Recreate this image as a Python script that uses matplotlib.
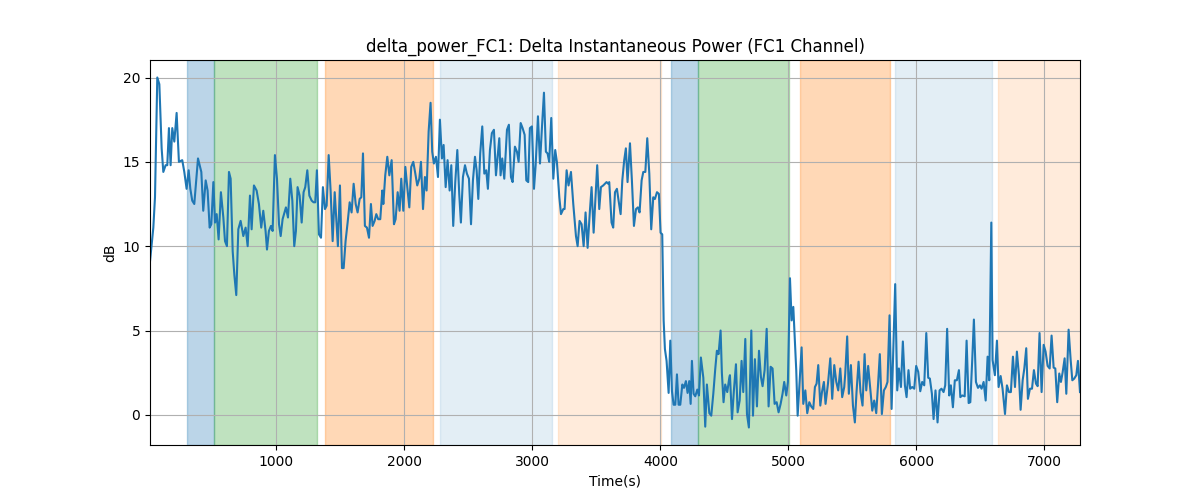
import numpy as np
import matplotlib
matplotlib.use("Agg")
import matplotlib.pyplot as plt

# time (s) / value (dB) pairs, segment by segment
t_a = [12, 38, 51, 69, 85, 103, 116, 134, 147, 160, 173, 186, 202, 220, 238, 264, 280, 298, 314, 327,
       342, 358, 387, 413, 428, 447, 462, 478, 491, 507, 520, 533, 548, 566, 585, 598, 613, 629, 642, 658,
       671, 686, 702, 720, 741, 759, 775, 793, 806, 824, 845, 863, 881, 897, 915]
v_a = [9.1, 11.1, 12.9, 20.0, 19.6, 15.8, 14.4, 14.8, 14.8, 17.0, 14.8, 17.0, 16.2, 17.9, 15.0, 15.1, 14.4, 13.4, 14.5, 13.4,
       12.7, 12.5, 15.2, 14.4, 12.1, 13.9, 13.3, 11.1, 11.3, 13.8, 11.4, 11.9, 10.4, 13.2, 11.7, 10.3, 10.0, 14.4, 14.0, 9.7,
       8.3, 7.1, 11.0, 11.5, 10.6, 11.1, 10.0, 13.0, 11.0, 13.6, 13.3, 12.5, 11.1, 12.1, 10.9]

t_b = [926, 941, 957, 970, 988, 1004, 1020, 1033, 1048, 1074, 1090, 1108, 1124, 1139, 1152, 1165, 1181, 1197, 1212, 1225,
       1241, 1257, 1275, 1290, 1303, 1316, 1332, 1348, 1363, 1379, 1392, 1408, 1423, 1439, 1455, 1467, 1480, 1496, 1512, 1525,
       1540, 1556, 1572, 1587, 1603, 1619, 1634, 1650, 1663, 1676, 1691, 1707, 1723, 1738, 1751, 1767, 1780, 1795, 1811, 1827]
v_b = [9.8, 10.9, 11.2, 10.9, 15.4, 14.0, 11.3, 10.6, 11.6, 12.3, 11.7, 14.0, 12.7, 10.0, 10.9, 13.5, 13.0, 11.4, 13.2, 13.5,
       14.5, 13.0, 12.7, 12.6, 12.6, 14.5, 10.7, 10.5, 13.5, 12.2, 12.4, 15.4, 13.3, 10.3, 13.2, 11.7, 10.0, 13.6, 8.7, 8.7,
       10.3, 11.4, 12.6, 12.0, 13.7, 12.5, 12.0, 12.8, 12.9, 15.5, 11.2, 11.1, 10.5, 12.5, 11.2, 11.5, 11.9, 11.6, 11.6, 13.3]

t_c = [1835, 1850, 1866, 1882, 1900, 1918, 1931, 1947, 1962, 1975, 1991, 2007, 2022, 2038, 2053, 2069, 2085, 2100, 2116, 2129,
       2145, 2160, 2173, 2189, 2204, 2217, 2230, 2246, 2262, 2277, 2293, 2306, 2322, 2337, 2353, 2366, 2381, 2397, 2413, 2428,
       2441, 2457, 2473, 2488, 2504, 2520, 2535, 2551, 2564, 2577, 2592, 2608, 2624, 2639, 2652, 2668, 2683, 2699, 2715, 2730, 2741]
v_c = [12.5, 14.2, 15.3, 14.2, 15.1, 11.3, 11.6, 13.2, 12.1, 14.0, 12.1, 14.7, 13.5, 12.3, 14.7, 15.0, 14.3, 13.6, 14.0, 15.0,
       12.2, 14.1, 13.3, 16.8, 18.5, 15.6, 14.9, 15.3, 14.1, 17.5, 15.2, 16.0, 13.5, 15.1, 13.3, 14.8, 11.2, 13.8, 15.7, 13.1,
       11.4, 14.1, 14.8, 14.3, 14.0, 11.3, 13.9, 15.3, 14.5, 12.8, 15.5, 17.1, 14.3, 14.5, 13.4, 15.7, 16.7, 16.9, 14.2, 15.5, 16.4]

t_d = [2751, 2764, 2780, 2801, 2816, 2832, 2845, 2863, 2879, 2892, 2908, 2923, 2939, 2952, 2967, 2980, 2996, 3012, 3025, 3043,
       3059, 3074, 3090, 3105, 3118, 3131, 3147, 3163, 3178, 3191, 3210, 3223, 3241, 3251, 3267, 3282, 3301, 3319, 3340, 3353,
       3368, 3384, 3400, 3415, 3431, 3449, 3462, 3478, 3493, 3506, 3522, 3535, 3553, 3566, 3579, 3592, 3600, 3618, 3631]
v_d = [14.2, 15.2, 14.0, 16.9, 17.2, 14.1, 13.8, 15.9, 15.6, 15.0, 17.3, 17.0, 16.6, 13.9, 13.8, 17.0, 17.1, 13.4, 14.8, 17.7,
       14.9, 17.0, 19.1, 15.6, 15.5, 15.0, 17.6, 14.0, 15.7, 15.0, 12.9, 11.9, 12.2, 12.2, 14.5, 13.6, 14.4, 12.5, 10.6, 10.0,
       11.5, 11.3, 10.0, 12.0, 9.9, 12.1, 13.5, 10.8, 12.9, 14.8, 12.2, 13.5, 13.6, 13.7, 13.8, 13.7, 13.8, 11.4, 11.1]

t_e = [3645, 3660, 3673, 3689, 3702, 3717, 3730, 3743, 3762, 3777, 3793, 3809, 3824, 3837, 3853, 3866, 3882, 3897, 3913, 3928,
       3944, 3957, 3973, 3988, 4001, 4014, 4025, 4035, 4048, 4064, 4077, 4090, 4103, 4116, 4129, 4142, 4155, 4171, 4184, 4199,
       4212, 4225, 4236, 4246, 4259, 4272, 4288, 4301, 4316, 4335, 4350, 4363, 4382, 4397, 4413, 4428, 4441, 4454, 4470, 4480,
       4493, 4506, 4522, 4538]
v_e = [13.2, 13.4, 12.7, 11.9, 13.9, 15.1, 15.8, 13.8, 16.1, 13.9, 11.2, 12.2, 12.3, 12.0, 13.9, 14.4, 14.4, 16.4, 14.3, 11.0,
       12.9, 12.8, 13.2, 13.1, 10.8, 10.7, 5.6, 3.9, 3.2, 1.3, 4.4, 1.4, 0.6, 0.6, 2.4, 0.6, 0.6, 1.8, 1.6, 2.0,
       1.3, 2.0, 0.65, 3.2, 1.25, 1.1, 1.5, 1.15, 3.4, 2.2, -0.7, 1.8, 0.1, -0.05, 1.25, 2.7, 3.8, 3.6, 5.0, 2.5,
       0.75, 1.8, 1.35, 2.2]

t_f = [4543, 4559, 4574, 4590, 4603, 4619, 4634, 4647, 4663, 4676, 4691, 4710, 4723, 4738, 4754, 4770, 4785, 4798, 4814, 4830,
       4845, 4861, 4876, 4892, 4908, 4923, 4939, 4954, 4967, 4983, 4996, 5012, 5025, 5038, 5051, 5061, 5072, 5087, 5103, 5116,
       5132, 5147, 5163, 5178, 5194, 5207, 5220, 5233, 5249, 5262, 5277, 5290, 5309, 5327, 5342, 5358, 5374, 5389, 5405, 5420, 5436]
v_f = [2.35, -0.25, 1.45, 3.0, 0.15, 0.85, 3.2, 1.35, 4.5, 0.05, -0.75, 5.0, -0.05, 3.3, 0.5, 3.8, 2.25, 1.7, 2.65, 5.1,
       0.5, 2.85, 2.75, 0.65, 0.75, 0.15, 0.65, 1.25, 1.95, 1.15, 1.95, 8.1, 5.6, 6.4, 4.2, 2.65, -0.05, 1.95, 4.0, 0.65,
       1.45, 0.1, 0.75, 0.5, 0.35, 1.65, 1.85, 2.95, 0.55, 1.35, 1.95, 0.65, 1.85, 3.35, 0.95, 2.95, 1.95, 1.45, 2.75, 1.05, 1.65]

t_g = [5444, 5459, 5472, 5488, 5504, 5519, 5532, 5548, 5563, 5579, 5595, 5608, 5623, 5639, 5655, 5670, 5686, 5699, 5714, 5730,
       5746, 5761, 5774, 5790, 5806, 5821, 5834, 5850, 5863, 5879, 5894, 5910, 5923, 5938, 5951, 5967, 5983, 5998, 6014, 6030,
       6045, 6061, 6077, 6092, 6105, 6121, 6134, 6149, 6165, 6181, 6196, 6212, 6225, 6240, 6256, 6269, 6285, 6300, 6316, 6332]
v_g = [2.45, 4.65, 1.25, 2.95, 0.55, -0.45, 1.35, 3.15, 1.35, 0.55, 3.6, 1.45, 2.9, 1.55, 0.25, 0.85, 0.1, 1.65, 3.6, 0.05,
       1.45, 1.65, 1.95, 5.9, 0.35, 4.4, 7.75, 1.45, 2.75, 1.65, 4.35, 1.75, 1.05, 2.65, 1.55, 1.65, 1.55, 2.9, 2.55, 1.4,
       1.95, 1.75, 4.85, 2.2, 2.15, 1.25, -0.25, 1.45, -0.45, 1.45, 1.55, 1.35, 1.75, 5.1, 1.15, 1.75, 0.45, 2.05, 2.05, 2.65]

t_h = [6343, 6358, 6377, 6392, 6408, 6421, 6436, 6449, 6465, 6481, 6496, 6509, 6525, 6541, 6556, 6569, 6585, 6595, 6613, 6629,
       6642, 6658, 6673, 6692, 6707, 6723, 6738, 6754, 6770, 6785, 6801, 6814, 6830, 6843, 6858, 6871, 6887, 6903, 6918, 6934,
       6947, 6962, 6978, 6994, 7009, 7025, 7041, 7056, 7072, 7085, 7100, 7116, 7129, 7142, 7158, 7171, 7189, 7205, 7218, 7233,
       7249, 7262, 7278]
v_h = [1.05, 1.15, 1.1, 4.4, 0.7, 0.75, 3.25, 5.65, 1.95, 1.6, 1.75, 1.55, 1.95, 0.85, 3.45, 2.05, 11.4, 3.25, 2.35, 4.4,
       1.65, 2.3, 1.55, 0.05, 1.75, 1.35, 1.35, 3.45, 1.65, 3.75, 2.35, 0.3, 2.05, 2.75, 3.95, 0.95, 1.55, 1.55, 2.65, 1.85,
       1.7, 4.85, 1.35, 4.15, 3.75, 2.9, 2.75, 4.7, 2.8, 2.75, 0.75, 2.45, 1.95, 2.5, 3.35, 1.25, 5.05, 3.25, 2.05, 2.15,
       2.35, 3.2, 1.35]

# shaded stages
span_start = [300, 512, 1379, 2277, 3202, 4082, 4295, 5090, 5832, 6639]
span_end = [512, 1314, 2220, 3150, 4002, 4295, 5006, 5793, 6588, 7300]
span_color = ["tab:blue", "tab:green", "tab:orange", "tab:blue", "tab:orange"] * 2
span_alpha = [0.3, 0.3, 0.3, 0.12, 0.15] * 2

t = np.concatenate([t_a, t_b, t_c, t_d, t_e, t_f, t_g, t_h])
v = np.concatenate([v_a, v_b, v_c, v_d, v_e, v_f, v_g, v_h])

plt.figure(figsize=(12, 5), dpi=100)
for s, e, c, a in zip(span_start, span_end, span_color, span_alpha):
    plt.axvspan(s, e, color=c, alpha=a)
plt.plot(t, v, color="tab:blue", linewidth=1.5)
plt.xlim(t[0], t[-1])
plt.title("delta_power_FC1: Delta Instantaneous Power (FC1 Channel)")
plt.xlabel("Time(s)")
plt.ylabel("dB")
plt.grid(True)
plt.savefig("out.png", dpi=100)
